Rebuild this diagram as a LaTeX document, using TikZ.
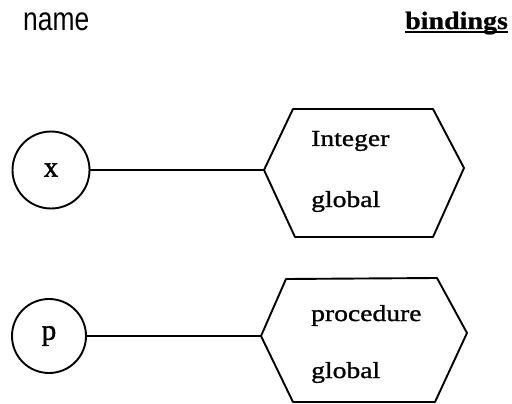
\documentclass[tikz,border=0pt]{standalone}
\usepackage{fontspec}
\setmainfont{Liberation Serif}
% wide serif for the binding entries, condensed sans for the column head
\newfontfamily\entryfont[FakeStretch=1.2,FakeBold=1.2]{Liberation Serif}
\newfontfamily\letterfont[FakeBold=1.4]{Liberation Serif}
\newfontfamily\bindfont[FakeStretch=1.12,FakeBold=0.8]{Liberation Serif}
\newfontfamily\namefont[FakeStretch=0.8]{Liberation Sans}
\tikzset{
  stroke/.style={line width=1.9pt, line join=round},
  namecircle/.style={stroke, draw, circle, inner sep=0pt, minimum size=#1,
    font=\letterfont\fontsize{29}{29}\selectfont},
  entry/.style={anchor=base west, inner sep=0pt,
    font=\entryfont\fontsize{23}{23}\selectfont},
  link/.style={stroke},
}
\begin{document}
\begin{tikzpicture}[x=1pt, y=-1pt]
\useasboundingbox (0,0) rectangle (512,404);

% column headings
\node[anchor=base west, inner sep=0pt, font=\namefont\fontsize{33}{33}\selectfont]
  (namehead) at (23,31) {name};
\node[anchor=base west, inner sep=0pt, font=\bindfont\bfseries\fontsize{25}{25}\selectfont]
  (bindhead) at (405,29) {bindings};
\draw[line width=1.7pt] ([yshift=-3pt]bindhead.base west) -- ([yshift=-3pt]bindhead.base east);

% binding of x
\node[namecircle=77pt] (x) at (51,170) {x};
\coordinate (hx) at (264,170);
\draw[stroke] (hx) -- (293,109) -- (433,109) -- (464,168) -- (433,237) -- (295,237) -- cycle;
\node[entry] (xtype) at (311,146) {Integer};
\node[entry] (xscope) at (311,207) {global};
\draw[link] (x) -- (hx);

% binding of p
\node[namecircle=74pt] (p) at (49,336) {p};
\coordinate (hp) at (261,336);
\draw[stroke] (hp) -- (286,279) -- (437,278) -- (467,333) -- (435,402) -- (293,402) -- cycle;
\node[entry] (ptype) at (311,321) {procedure};
\node[entry] (pscope) at (311,378) {global};
\draw[link] (p) -- (hp);
\end{tikzpicture}
\end{document}
